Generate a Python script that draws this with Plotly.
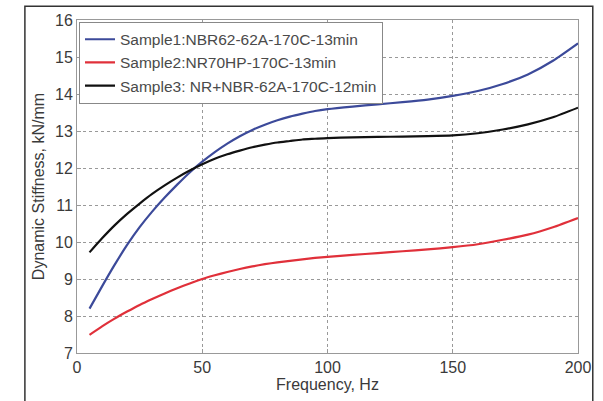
import plotly.graph_objects as go

freq = [5, 10, 15, 20, 25, 30, 35, 40, 45, 50, 55, 60, 65, 70, 75, 80, 85, 90, 95, 100,
        110, 120, 130, 140, 150, 160, 170, 180, 190, 200]
sample1 = [8.2, 8.8, 9.38, 9.92, 10.4, 10.82, 11.2, 11.55, 11.88, 12.17, 12.43, 12.66, 12.86, 13.03, 13.17, 13.29, 13.39, 13.47, 13.54, 13.59,
           13.66, 13.72, 13.78, 13.85, 13.95, 14.08, 14.27, 14.53, 14.9, 15.37]
sample2 = [7.49, 7.72, 7.93, 8.12, 8.3, 8.46, 8.61, 8.75, 8.88, 9.0, 9.1, 9.19, 9.27, 9.34, 9.4, 9.45, 9.49, 9.53, 9.57, 9.6,
           9.65, 9.7, 9.75, 9.8, 9.86, 9.94, 10.06, 10.2, 10.4, 10.65]
sample3 = [9.72, 10.1, 10.45, 10.76, 11.04, 11.3, 11.53, 11.74, 11.93, 12.1, 12.25, 12.37, 12.47, 12.56, 12.63, 12.69, 12.73, 12.77, 12.79, 12.81,
           12.83, 12.84, 12.85, 12.86, 12.88, 12.94, 13.04, 13.18, 13.37, 13.63]
names = ["Sample1:NBR62-62A-170C-13min", "Sample2:NR70HP-170C-13min", "Sample3: NR+NBR-62A-170C-12min"]
colors = ["#3c4a9a", "#e0303a", "#111111"]

fig = go.Figure()
for ys, nm, c in zip([sample1, sample2, sample3], names, colors):
    fig.add_trace(go.Scatter(x=freq, y=ys, name=nm, mode="lines",
                             line=dict(color=c, width=2.2, shape="spline", smoothing=0.6)))

font = dict(family="Liberation Sans, Arial", size=16, color="#3a3a3a")
fig.update_layout(
    width=603, height=401,
    margin=dict(l=77, r=18, t=18, b=43),
    paper_bgcolor="white", plot_bgcolor="white",
    font=font,
    showlegend=True,
    legend=dict(x=0.004, y=0.995, xanchor="left", yanchor="top",
                bgcolor="white", bordercolor="#888888", borderwidth=1,
                font=dict(family="Liberation Sans, Arial", size=15.5, color="#4a4a4a"),
                tracegroupgap=0, itemwidth=30),
    xaxis=dict(range=[0, 200], tickvals=[0, 50, 100, 150, 200],
               showgrid=True, gridcolor="#999999", griddash="dot", gridwidth=1,
               showline=True, linecolor="#999999", mirror=True, linewidth=1,
               ticks="inside", ticklen=4, tickcolor="#999999",
               zeroline=False, tickfont=font,
               title=dict(text="Frequency, Hz", standoff=2, font=font)),
    yaxis=dict(range=[7, 16], dtick=1,
               showgrid=True, gridcolor="#999999", griddash="dot", gridwidth=1,
               showline=True, linecolor="#999999", mirror=True, linewidth=1,
               ticks="inside", ticklen=4, tickcolor="#999999",
               zeroline=False, tickfont=font,
               title=dict(text="Dynamic Stiffness, kN/mm", standoff=6, font=font)),
)
# outer frame
fig.add_shape(type="rect", xref="paper", yref="paper",
              x0=-0.104, x1=1.0295, y0=-0.4, y1=1.041,
              line=dict(color="#333333", width=1.5), layer="below")
fig.write_html("out.html")
